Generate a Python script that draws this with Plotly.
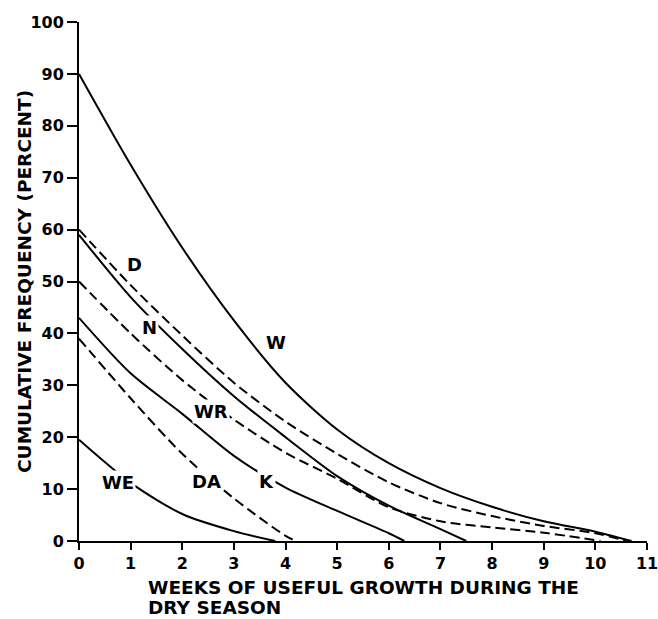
import plotly.graph_objects as go

# Data
w_x = [0, 1, 2, 3, 4, 5, 6, 7, 8, 9, 10, 10.7]
w_y = [90, 72.5, 56.5, 42.5, 30.5, 21.5, 15.0, 10.2, 6.6, 3.8, 1.8, 0]

d_x = [0, 1, 2, 3, 4, 5, 6, 7, 8, 9, 10, 10.6]
d_y = [60, 49.3, 39.6, 30.5, 23, 16.8, 11.3, 7.3, 4.8, 2.9, 1.5, 0]

n_x = [0, 1, 2, 3, 4, 5, 6, 7, 7.5]
n_y = [59, 47, 37, 27.9, 20.0, 12.5, 6.8, 2.3, 0]

wr_x = [0, 1, 2, 3, 4, 5, 6, 7, 8, 9, 10.1]
wr_y = [50, 40, 31, 23.4, 17.0, 12.0, 6.5, 3.8, 2.6, 1.6, 0]

k_x = [0, 1, 2, 3, 4, 5, 6, 6.3]
k_y = [43, 32.3, 24.5, 16.4, 10.3, 5.8, 1.5, 0]

da_x = [0, 1, 2, 3, 4, 4.2]
da_y = [39, 27.5, 16.8, 8.2, 1.0, 0]

we_x = [0, 1, 2, 3, 3.8]
we_y = [19.5, 11.2, 5.2, 1.9, 0]

labels = ["W", "D", "N", "WR", "K", "DA", "WE"]
label_x = [3.82, 1.08, 1.37, 2.56, 3.64, 2.47, 0.75]
label_y = [38.2, 53.2, 41.2, 25.0, 11.5, 11.4, 11.2]
label_breaks_line = [False, False, True, True, True, True, True]

x_ticks = list(range(0, 12))
y_ticks = list(range(0, 101, 10))

x_title_lines = ["WEEKS OF USEFUL GROWTH DURING THE", "DRY SEASON"]
y_title = "CUMULATIVE FREQUENCY (PERCENT)"

series = [
    ("W", w_x, w_y, "solid"),
    ("D", d_x, d_y, "dash"),
    ("N", n_x, n_y, "solid"),
    ("WR", wr_x, wr_y, "dash"),
    ("K", k_x, k_y, "solid"),
    ("DA", da_x, da_y, "dash"),
    ("WE", we_x, we_y, "solid"),
]

FONT = "DejaVu Sans"

fig = go.Figure()
for name, xs, ys, style in series:
    fig.add_trace(go.Scatter(
        x=xs, y=ys, mode="lines", name=name,
        line=dict(color="black", width=2,
                  dash="10px,5px" if style == "dash" else "solid",
                  shape="spline", smoothing=0.8),
        showlegend=False, hoverinfo="skip",
    ))

for t, lx, ly, brk in zip(labels, label_x, label_y, label_breaks_line):
    fig.add_annotation(
        x=lx, y=ly, text="<b>" + t + "</b>", showarrow=False,
        font=dict(family=FONT, size=18, color="black"),
        bgcolor="white" if brk else "rgba(0,0,0,0)", borderpad=1,
    )

fig.add_annotation(
    xref="paper", yref="paper", x=-0.096, y=0.5,
    text="<b>" + y_title + "</b>", textangle=-90,
    showarrow=False, font=dict(family=FONT, size=18.5, color="black"),
    xanchor="center", yanchor="middle",
)
for line_text, py in zip(x_title_lines, [-0.0905, -0.1275]):
    fig.add_annotation(
        xref="paper", yref="paper", x=0.119, y=py,
        text="<b>" + line_text + "</b>",
        showarrow=False, align="left", xanchor="left", yanchor="middle",
        font=dict(family=FONT, size=18.5, color="black"),
        borderpad=0,
    )

fig.update_xaxes(
    range=[0, 11], tickvals=x_ticks, ticktext=[str(v) for v in x_ticks],
    showline=True, linecolor="black", linewidth=2,
    ticks="outside", ticklen=7, tickwidth=2, tickcolor="black",
    showgrid=False, zeroline=False, automargin=False,
    ticklabeloverflow="allow",
    tickfont=dict(family=FONT, size=16, color="black", weight="bold"),
)
fig.update_yaxes(
    range=[0, 100], tickvals=y_ticks, ticktext=[str(v) for v in y_ticks],
    showline=True, linecolor="black", linewidth=2,
    ticks="outside", ticklen=10, tickwidth=2, tickcolor="black",
    showgrid=False, zeroline=False, automargin=False,
    ticklabeloverflow="allow",
    tickfont=dict(family=FONT, size=16, color="black", weight="bold"),
)

fig.update_layout(
    width=658, height=619,
    margin=dict(l=79, r=11, t=22, b=78),
    plot_bgcolor="white", paper_bgcolor="white",
)

fig.write_html(
    "out.html",
    config={"displayModeBar": False},
    post_script="document.body.style.margin='0';document.body.style.overflow='hidden';",
)
